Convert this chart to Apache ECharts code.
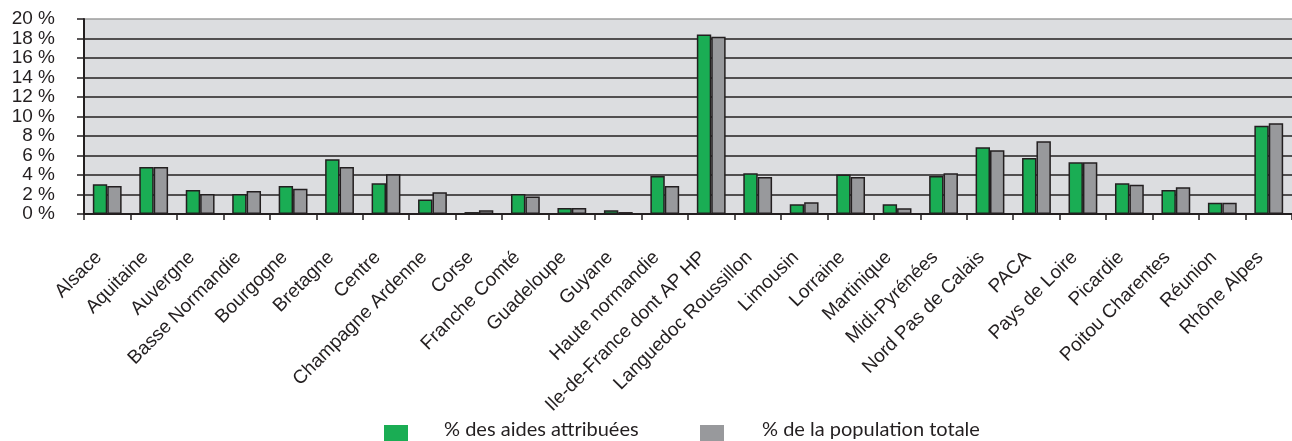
<!DOCTYPE html>
<html>
<head>
<meta charset="utf-8">
<script src="https://cdn.jsdelivr.net/npm/echarts@6/dist/echarts.min.js"></script>
<style>
  html, body { margin: 0; padding: 0; background: #fff; }
  #chart { width: 1292px; height: 441px; }
</style>
</head>
<body>
<div id="chart"></div>
<script>
// Regions (x axis categories)
const regions = [
  'Alsace', 'Aquitaine', 'Auvergne', 'Basse Normandie', 'Bourgogne', 'Bretagne',
  'Centre', 'Champagne Ardenne', 'Corse', 'Franche Comté', 'Guadeloupe', 'Guyane',
  'Haute normandie', 'Ile-de-France dont AP HP', 'Languedoc Roussillon', 'Limousin',
  'Lorraine', 'Martinique', 'Midi-Pyrénées', 'Nord Pas de Calais', 'PACA',
  'Pays de Loire', 'Picardie', 'Poitou Charentes', 'Réunion', 'Rhône Alpes'
];

// % des aides attribuées
const aidesAttribuees = [
  3.05, 4.83, 2.47, 2.05, 2.88, 5.62,
  3.15, 1.5, 0.2, 2.05, 0.62, 0.38,
  3.9, 18.4, 4.18, 1.0,
  4.04, 1.0, 3.9, 6.85, 5.75,
  5.3, 3.15, 2.47, 1.16, 9.04
];

// % de la population totale
const populationTotale = [
  2.88, 4.83, 2.05, 2.36, 2.6, 4.83,
  4.08, 2.23, 0.38, 1.8, 0.62, 0.2,
  2.88, 18.18, 3.8, 1.2,
  3.8, 0.58, 4.18, 6.54, 7.47,
  5.3, 3.0, 2.74, 1.16, 9.3
];

const seriesNames = ['% des aides attribuées', '% de la population totale'];

// y axis goes 0..20 by 2, top line is grey, others dark
const gridLineColors = [
  '#231f20', '#231f20', '#231f20', '#231f20', '#231f20', '#231f20',
  '#231f20', '#231f20', '#231f20', '#231f20', '#9d9d9d'
];

const textColor = '#231f20';
const axisFont = 'Arial';
const chart = echarts.init(document.getElementById('chart'));

// legend squares and legend texts sit at different heights in the original,
// so they are split in two legend rows (squares only / texts only)
const legendIcons = {
  top: 425,
  padding: 0,
  icon: 'rect',
  itemWidth: 24,
  itemHeight: 18,
  itemStyle: { borderWidth: 0 },
  formatter: () => '',
  selectedMode: false
};
const legendTexts = {
  top: 420,
  padding: 0,
  icon: 'rect',
  itemWidth: 1,
  itemHeight: 18,
  itemStyle: { opacity: 0, borderWidth: 0 },
  textStyle: { fontFamily: 'Lato', fontSize: 20, color: textColor },
  selectedMode: false
};

const option = {
  animation: false,
  backgroundColor: '#ffffff',
  legend: [
    Object.assign({}, legendIcons, { left: 384, data: [seriesNames[0]] }),
    Object.assign({}, legendIcons, { left: 700, data: [seriesNames[1]] }),
    Object.assign({}, legendTexts, { left: 438, data: [seriesNames[0]] }),
    Object.assign({}, legendTexts, { left: 756, data: [seriesNames[1]] })
  ],
  grid: {
    left: 84,
    right: -9,
    top: 19,
    bottom: 227,
    show: true,
    backgroundColor: '#dcdde0',
    borderWidth: 0
  },
  xAxis: {
    type: 'category',
    data: regions,
    axisLine: { lineStyle: { color: textColor, width: 2 } },
    axisTick: { show: true, length: 6, lineStyle: { color: textColor, width: 1.5 } },
    axisLabel: {
      interval: 0,
      rotate: 45,
      margin: 32,
      padding: [0, 12, 0, 0],
      fontFamily: axisFont,
      fontSize: 19,
      color: textColor
    }
  },
  yAxis: {
    type: 'value',
    min: 0,
    max: 20,
    interval: 2,
    axisLine: { show: true, lineStyle: { color: textColor, width: 2 } },
    axisTick: { show: true, length: 7, lineStyle: { color: textColor, width: 1.5 } },
    axisLabel: {
      formatter: '{value} %',
      margin: 29,
      showMinLabel: true,
      showMaxLabel: true,
      hideOverlap: false,
      fontFamily: axisFont,
      fontSize: 19,
      color: textColor
    },
    splitLine: { show: true, lineStyle: { color: gridLineColors, width: 1.5 } }
  },
  series: [
    {
      name: seriesNames[0],
      type: 'bar',
      data: aidesAttribuees,
      barGap: '0%',
      barCategoryGap: '38%',
      itemStyle: { color: '#1aad54', borderColor: '#231f20', borderWidth: 1.5 }
    },
    {
      name: seriesNames[1],
      type: 'bar',
      data: populationTotale,
      itemStyle: { color: '#98999c', borderColor: '#231f20', borderWidth: 1.5 }
    }
  ]
};

chart.setOption(option);
</script>
</body>
</html>
